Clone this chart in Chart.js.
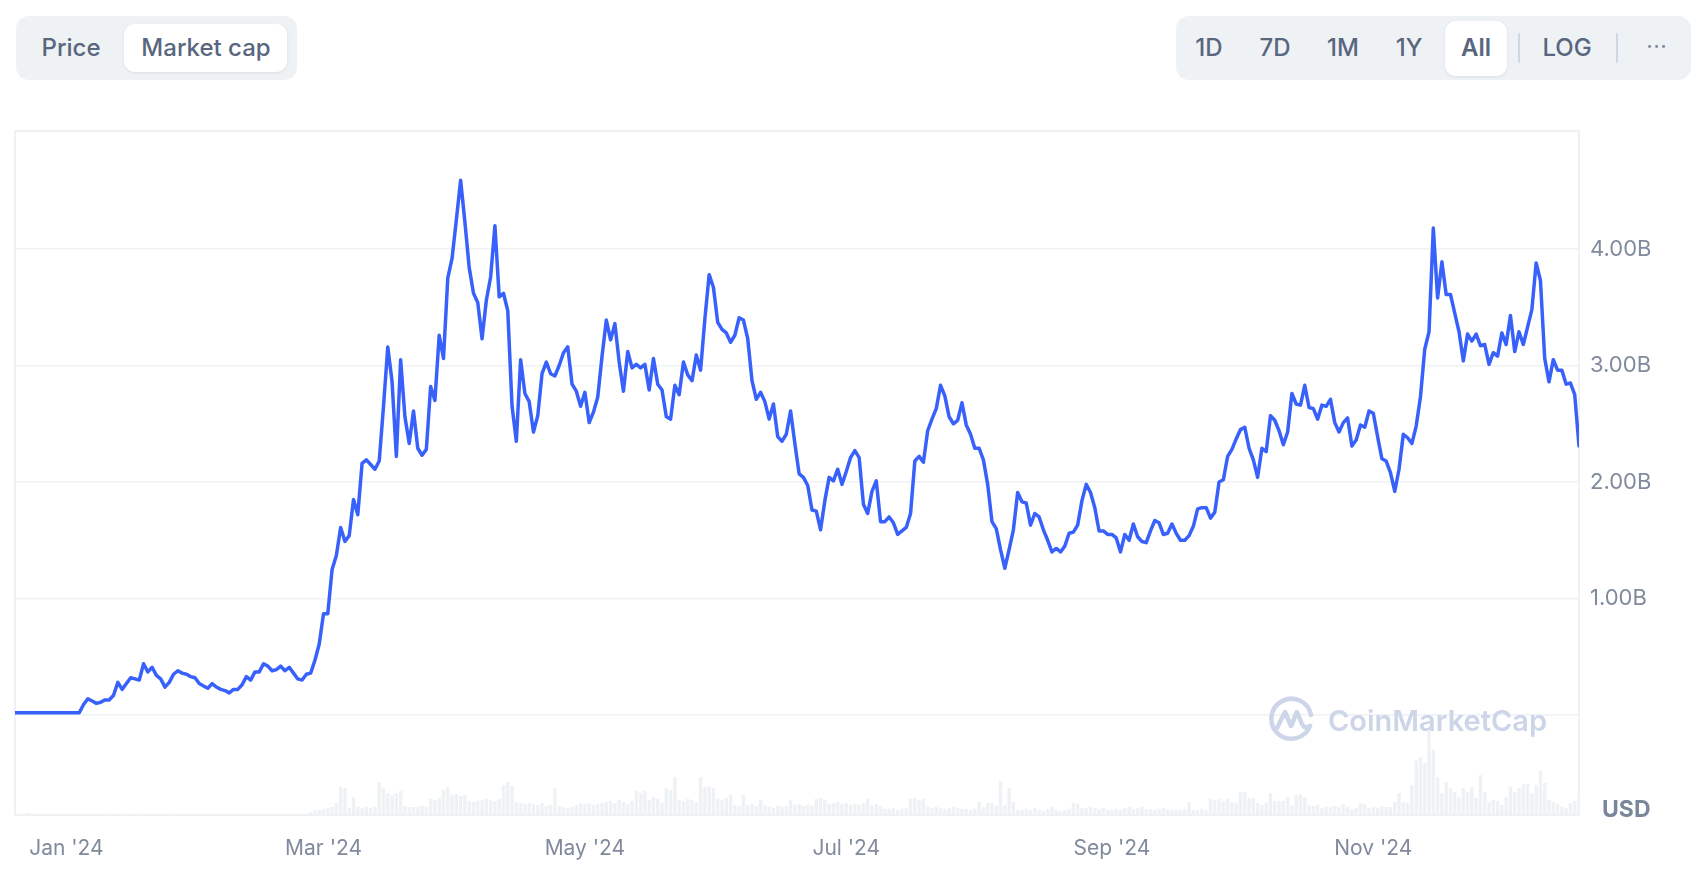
<!DOCTYPE html>
<html>
<head>
<meta charset="utf-8">
<script src="https://cdn.jsdelivr.net/npm/chart.js@4.4.1/dist/chart.umd.min.js"></script>
<style>
  html, body { margin:0; padding:0; background:#fff; width:1696px; height:874px; overflow:hidden; font-family: Inter, "Noto Sans", sans-serif; }
  #chart { position:absolute; left:0; top:0; }
  .grp { position:absolute; background:#eff2f5; border-radius:13px; }
  .pill { position:absolute; background:#fff; border-radius:11px; box-shadow:0 1px 3px rgba(88,102,126,0.14); }
  .lbl { position:absolute; transform:translate(-50%,-50%); color:#58667e; font-size:24px; font-weight:500; white-space:nowrap; line-height:1; }
  .sep { position:absolute; width:2px; background:#cfd6e4; border-radius:1px; }
  #usd { position:absolute; left:1602px; top:809px; transform:translateY(-50%); font-size:23px; font-weight:700; color:#7a869a; line-height:1; }
  #wm { position:absolute; left:1328px; top:720px; transform:translateY(-50%); font-size:29px; font-weight:600; color:#cdd5e8; line-height:1; white-space:nowrap; pointer-events:none; }
  #wmicon { position:absolute; left:1267px; top:695px; pointer-events:none; }
</style>
</head>
<body>
<canvas id="chart" width="1696" height="874"></canvas>

<div class="grp" style="left:16px;top:16px;width:281px;height:64px;"></div>
<div class="pill" style="left:124px;top:24px;width:163px;height:48px;"></div>
<div class="lbl" style="left:71px;top:48px;">Price</div>
<div class="lbl" style="left:206px;top:48px;">Market cap</div>

<div class="grp" style="left:1176px;top:16px;width:515px;height:64px;"></div>
<div class="pill" style="left:1445px;top:21px;width:62px;height:55px;"></div>
<div class="lbl" style="left:1209px;top:48px;">1D</div>
<div class="lbl" style="left:1275px;top:48px;">7D</div>
<div class="lbl" style="left:1343px;top:48px;">1M</div>
<div class="lbl" style="left:1409px;top:48px;">1Y</div>
<div class="lbl" style="left:1476px;top:48px;font-weight:600;">All</div>
<div class="sep" style="left:1518px;top:33px;height:30px;"></div>
<div class="lbl" style="left:1567px;top:48px;">LOG</div>
<div class="sep" style="left:1616px;top:33px;height:30px;"></div>
<div class="lbl" style="left:1657px;top:46px;font-size:20px;letter-spacing:1px;color:#7a869a;">···</div>

<svg id="wmicon" width="50" height="50" viewBox="0 0 50 50">
  <path d="M43 31 A20 20 0 1 1 44 20" fill="none" stroke="#cdd5e8" stroke-width="4.5" stroke-linecap="round"/>
  <path d="M10 33 L18 17 L24 31 L30 17 L35 29 Q38 35 43 31" fill="none" stroke="#cdd5e8" stroke-width="4.5" stroke-linecap="round" stroke-linejoin="round"/>
</svg>
<div id="wm">CoinMarketCap</div>
<div id="usd">USD</div>

<script>
// Days are counted from 1 Jan 2024; the series starts 12 days earlier (19 Dec 2023), one value per day.
const firstDay = -12;

// Market cap, billions USD (daily)
const mcapB = [
  0.02,0.02,0.02,0.02,0.02,0.02,0.02,0.02,0.02,0.02,0.02,0.02,0.02,0.02,0.02,0.02,
  0.09,0.14,0.12,0.10,0.11,0.13,0.13,0.17,0.28,0.22,
  0.27,0.32,0.31,0.30,0.44,0.37,0.41,0.34,0.31,0.24,
  0.28,0.35,0.38,0.36,0.35,0.33,0.32,0.27,0.25,0.23,
  0.27,0.24,0.22,0.21,0.19,0.22,0.22,0.26,0.33,0.30,
  0.37,0.37,0.44,0.42,0.38,0.39,0.42,0.38,0.41,0.36,
  0.31,0.30,0.35,0.36,0.47,0.61,0.87,0.87,1.25,1.37,
  1.61,1.49,1.54,1.85,1.72,2.16,2.19,2.15,2.11,2.18,
  2.65,3.16,2.86,2.22,3.05,2.56,2.33,2.61,2.29,2.23,
  2.28,2.82,2.70,3.26,3.06,3.75,3.92,4.25,4.59,4.23,
  3.84,3.62,3.54,3.23,3.56,3.76,4.20,3.59,3.62,3.47,
  2.65,2.35,3.05,2.76,2.69,2.43,2.57,2.93,3.03,2.93,
  2.91,3.00,3.11,3.16,2.84,2.78,2.65,2.77,2.51,2.60,
  2.73,3.08,3.39,3.22,3.36,3.03,2.78,3.12,2.98,3.01,
  2.98,3.01,2.79,3.06,2.84,2.79,2.56,2.54,2.83,2.75,
  3.03,2.92,2.87,3.09,2.96,3.40,3.78,3.67,3.37,3.31,
  3.28,3.20,3.26,3.41,3.39,3.23,2.87,2.71,2.77,2.69,
  2.54,2.67,2.39,2.35,2.41,2.61,2.33,2.07,2.04,1.97,
  1.76,1.75,1.59,1.84,2.04,2.01,2.11,1.98,2.09,2.21,
  2.27,2.21,1.81,1.73,1.92,2.01,1.66,1.66,1.70,1.65,
  1.55,1.58,1.61,1.73,2.18,2.22,2.17,2.44,2.54,2.63,
  2.83,2.74,2.56,2.50,2.53,2.68,2.49,2.41,2.29,2.29,
  2.19,1.98,1.66,1.60,1.42,1.26,1.42,1.59,1.91,1.83,
  1.82,1.63,1.73,1.70,1.59,1.50,1.40,1.43,1.40,1.45,
  1.56,1.57,1.63,1.84,1.98,1.91,1.78,1.58,1.58,1.55,
  1.55,1.52,1.40,1.55,1.50,1.64,1.53,1.49,1.48,1.58,
  1.67,1.65,1.55,1.56,1.64,1.56,1.50,1.50,1.54,1.62,
  1.77,1.78,1.78,1.69,1.74,2.00,2.02,2.22,2.28,2.37,
  2.45,2.47,2.29,2.19,2.04,2.29,2.26,2.57,2.53,2.44,
  2.32,2.43,2.76,2.67,2.66,2.83,2.64,2.63,2.54,2.66,
  2.65,2.71,2.51,2.43,2.51,2.55,2.31,2.36,2.49,2.47,
  2.61,2.59,2.39,2.20,2.18,2.08,1.92,2.11,2.41,2.38,
  2.33,2.48,2.73,3.14,3.29,4.18,3.58,3.89,3.61,3.61,
  3.45,3.29,3.04,3.27,3.21,3.27,3.17,3.18,3.01,3.11,
  3.08,3.28,3.18,3.43,3.12,3.29,3.18,3.33,3.48,3.88,
  3.73,3.06,2.86,3.05,2.96,2.96,2.84,2.85,2.75,2.31
];

// 24h volume, millions USD (daily)
const volumeM = [
  20,15,10,20,15,5,5,5,5,5,
  5,5,5,5,5,5,5,5,5,5,
  5,5,15,5,5,5,15,5,5,15,
  15,5,5,5,5,5,15,5,5,5,
  5,5,5,5,5,5,5,5,5,5,
  5,5,5,5,5,5,5,5,5,5,
  5,5,5,5,5,5,5,5,5,30,
  50,50,60,70,80,120,280,270,70,180,
  80,70,80,70,80,330,270,220,200,220,
  240,90,80,80,80,90,80,160,150,170,
  250,280,200,210,190,200,140,130,140,150,
  160,150,140,160,300,330,290,130,120,110,
  120,110,100,120,90,100,270,90,80,70,
  80,100,120,110,120,100,110,120,130,140,
  120,150,130,110,140,240,220,240,150,180,
  160,120,270,250,380,150,140,160,150,130,
  380,280,290,270,160,150,170,200,100,90,
  200,100,110,90,150,100,80,70,90,80,
  90,150,100,110,90,100,90,160,170,150,
  110,120,130,110,120,100,110,100,120,160,
  100,110,90,60,60,70,50,60,70,160,
  170,150,160,80,70,80,70,60,70,80,
  70,60,60,50,60,130,80,120,120,90,
  340,100,270,130,50,50,60,50,70,50,
  40,60,80,50,40,50,60,120,110,70,
  70,80,70,60,70,50,50,60,50,70,
  80,60,70,80,60,60,50,60,70,60,
  50,50,50,60,130,50,50,60,50,160,
  150,160,140,160,130,120,230,230,170,170,
  120,100,120,220,140,140,140,180,100,200,
  210,180,100,90,100,70,80,80,90,80,
  110,80,60,70,120,110,70,80,70,90,
  80,80,130,220,130,120,300,550,580,520,
  850,650,380,220,330,270,230,180,270,230,
  280,170,400,230,130,150,140,100,180,280,
  230,270,310,310,220,300,440,320,150,130,
  110,80,70,120,140,210
];

// X-axis ticks (day number from 1 Jan 2024) and their labels
const tickDays = [0, 60, 121, 182, 244, 305];
const tickLabels = ["Jan '24", "Mar '24", "May '24", "Jul '24", "Sep '24", "Nov '24"];

// Y-axis grid values (billions); 0 is a gridline with no label
const yTickValues = [0, 1, 2, 3, 4];

const linePoints = mcapB.map((v, i) => ({ x: firstDay + i, y: v }));
const volPoints = volumeM.map((v, i) => ({ x: firstDay + i, y: v }));

Chart.defaults.font.family = 'Inter, "Noto Sans", sans-serif';

const areaBorder = {
  id: 'areaBorder',
  beforeDatasetsDraw(chart) {
    const { ctx, chartArea: a } = chart;
    ctx.save();
    ctx.strokeStyle = '#eaedf2';
    ctx.lineWidth = 1.5;
    ctx.strokeRect(a.left, a.top, a.right - a.left, a.bottom - a.top);
    ctx.restore();
  }
};

new Chart(document.getElementById('chart'), {
  type: 'bar',
  data: {
    datasets: [
      {
        type: 'line', data: linePoints, yAxisID: 'y', order: 0,
        borderColor: '#3861fb', borderWidth: 3.5, pointRadius: 0, tension: 0,
        fill: false, borderJoinStyle: 'round', borderCapStyle: 'round'
      },
      {
        type: 'bar', data: volPoints, yAxisID: 'yv', order: 1,
        backgroundColor: '#eff2f5', barPercentage: 0.8, categoryPercentage: 1.0
      }
    ]
  },
  options: {
    responsive: false,
    animation: false,
    devicePixelRatio: 1,
    layout: { padding: { left: 15, top: 131, right: 0, bottom: 0 } },
    plugins: { legend: { display: false }, tooltip: { enabled: false } },
    scales: {
      x: {
        type: 'linear',
        min: firstDay,
        max: firstDay + mcapB.length - 1,
        offset: false,
        grid: { display: false, offset: false },
        border: { display: false },
        afterBuildTicks: (s) => { s.ticks = tickDays.map(v => ({ value: v })); },
        afterFit: (s) => { s.height = 59; },
        ticks: {
          autoSkip: false, maxRotation: 0, minRotation: 0, padding: 13,
          color: '#808a9d', font: { size: 21 },
          callback: (v) => { const k = tickDays.indexOf(v); return k >= 0 ? tickLabels[k] : ''; }
        }
      },
      y: {
        position: 'right',
        min: -0.858,
        max: 5.013,
        grid: { color: '#eff2f5', lineWidth: 1.5, drawTicks: false },
        border: { display: false },
        afterBuildTicks: (s) => { s.ticks = yTickValues.map(v => ({ value: v })); },
        afterFit: (s) => { s.width = 117; },
        ticks: {
          padding: 11, color: '#808a9d', font: { size: 22 },
          callback: (v) => (v === 0 ? '' : v.toFixed(2) + 'B')
        }
      },
      yv: { display: false, min: 0, max: 6840 }
    }
  },
  plugins: [areaBorder]
});
</script>
</body>
</html>
